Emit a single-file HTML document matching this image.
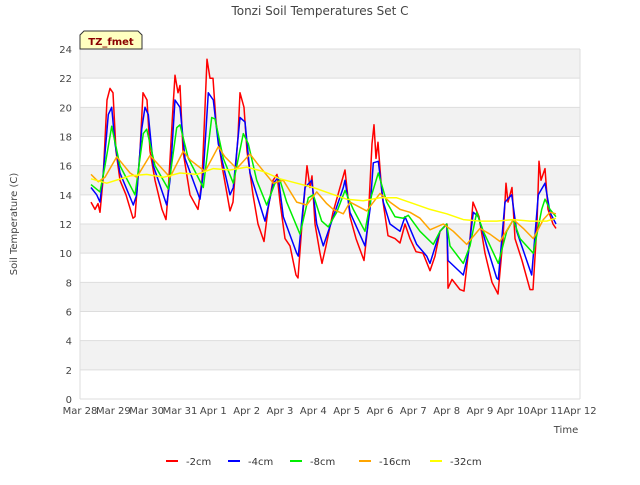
<!DOCTYPE html>
<html><head><meta charset="utf-8"><style>
body{margin:0;background:#fff;}
svg{font-family:"DejaVu Sans","Liberation Sans",sans-serif;}
</style></head><body>
<svg id="c" width="640" height="480" xmlns="http://www.w3.org/2000/svg">
<text x="320" y="15" text-anchor="middle" font-size="12" fill="#444">Tonzi Soil Temperatures Set C</text>
<text transform="translate(17,224) rotate(-90)" text-anchor="middle" font-size="10" fill="#444">Soil Temperature (C)</text>
<text x="566" y="433" text-anchor="middle" font-size="10" fill="#444">Time</text>
<g id="bands"></g><g id="grid"></g><g id="ticks"></g><g id="series"></g>
<g>
<path d="M80,49 L80,35 L84,31 L138,31 L142,35 L142,49 Z" fill="#ffffc0" stroke="#333" stroke-width="1"/>
<text x="111" y="45" text-anchor="middle" font-size="10" font-weight="bold" fill="#8b0000">TZ_fmet</text>
</g>
<g id="legend"></g>
</svg>
<script>
const xTickLabels=["Mar 28","Mar 29","Mar 30","Mar 31","Apr 1","Apr 2","Apr 3","Apr 4","Apr 5","Apr 6","Apr 7","Apr 8","Apr 9","Apr 10","Apr 11","Apr 12"];
const yTicks=[0,2,4,6,8,10,12,14,16,18,20,22,24];
const seriesNames=["-2cm","-4cm","-8cm","-16cm","-32cm"];
const seriesColors=["#ff0000","#0000ff","#00ee00","#ffa500","#ffff00"];
const s2t=[0.33,0.45,0.54,0.6,0.69,0.81,0.9,0.99,1.08,1.2,1.38,1.59,1.65,1.8,1.89,2.01,2.1,2.25,2.46,2.58,2.64,2.79,2.85,2.94,3.0,3.09,3.3,3.54,3.66,3.81,3.9,3.99,4.08,4.26,4.5,4.59,4.74,4.8,4.92,5.01,5.19,5.34,5.52,5.64,5.79,5.91,6.0,6.15,6.3,6.48,6.54,6.66,6.81,6.9,6.96,7.05,7.2,7.26,7.38,7.59,7.8,7.95,8.1,8.28,8.52,8.64,8.76,8.82,8.88,8.94,9.06,9.24,9.45,9.6,9.75,9.9,10.08,10.29,10.5,10.65,10.8,11.01,11.04,11.16,11.4,11.52,11.7,11.79,11.88,11.97,12.15,12.36,12.54,12.69,12.78,12.84,12.96,13.05,13.26,13.5,13.59,13.71,13.77,13.83,13.95,14.04,14.19,14.28];
const s2v=[13.5,13.0,13.4,12.8,15,20.5,21.3,21.0,17,15,14,12.4,12.5,17,21,20.5,17,15,13,12.3,14,20,22.2,21,21.5,17,14,13,15,23.3,22,22,19,16,12.9,13.5,18,21,20,17,14,12,10.8,13,15,15.4,13.5,11,10.5,8.5,8.3,12,16,14.5,15.3,12,10,9.3,10.5,12.8,14.5,15.7,12.5,11,9.5,12,17.5,18.8,16.5,17.6,14,11.2,11,10.7,12,11,10.1,10,8.8,9.8,11.5,12,7.6,8.2,7.5,7.4,11,13.5,13,12.5,10,8,7.2,11,14.8,13.5,14.5,11,9.5,7.5,7.5,12,16.3,15,15.8,13,12,11.7];
const s4t=[0.33,0.5,0.6,0.7,0.85,0.95,1.05,1.2,1.6,1.7,1.85,1.95,2.05,2.2,2.6,2.7,2.85,3.0,3.15,3.6,3.7,3.85,4.0,4.15,4.5,4.6,4.8,4.95,5.1,5.55,5.8,5.95,6.1,6.5,6.55,6.75,6.95,7.1,7.3,7.6,7.9,7.95,8.1,8.55,8.7,8.8,8.95,9.1,9.3,9.6,9.75,10.1,10.4,10.5,10.8,11.0,11.04,11.5,11.65,11.8,11.95,12.2,12.5,12.55,12.75,12.95,13.1,13.55,13.75,13.95,14.1,14.28];
const s4v=[14.5,14.0,13.5,15.5,19.5,20,17.5,15.5,13.3,14,18.5,20,19.5,16,13.3,15,20.5,20,16.5,13.7,15.5,21,20.5,17.5,14,14.5,19.3,19,15.5,12.2,14.8,15.2,12.5,10,9.8,14.5,15,12,10.5,12.5,14.5,15,12.8,10.5,13,16.2,16.3,13.5,12,11.5,12.5,10.6,9.8,9.3,11.5,12,9.5,8.5,10,12.8,12.5,10.5,8.3,8.2,13.5,14,11.5,8.5,14,14.8,12.8,12];
const s8t=[0.33,0.6,0.75,0.95,1.2,1.65,1.9,2.0,2.25,2.65,2.9,3.0,3.25,3.7,3.95,4.05,4.3,4.6,4.9,5.05,5.3,5.6,5.85,6.0,6.2,6.6,6.85,7.0,7.25,7.45,7.7,7.95,8.2,8.55,8.75,8.95,9.2,9.45,9.7,9.85,10.2,10.6,10.8,11.0,11.1,11.5,11.7,11.9,12.1,12.55,12.8,13.0,13.2,13.6,13.85,13.95,14.1,14.28];
const s8v=[14.7,14.2,16,18.7,16,14.0,18.2,18.5,16,14.4,18.6,18.8,16.5,14.5,19.3,19.2,16.5,14.8,18.2,17.5,15,13.3,14.8,15,13.5,11.3,13.8,14,12.2,11.8,12.8,14.3,13,11.5,14,15.5,13.5,12.5,12.4,12.6,11.5,10.6,11.5,12,10.5,9.3,10.5,12.8,11.5,9.3,11.5,12.3,11,10,13,13.7,13,12.5];
const s16t=[0.33,0.55,0.75,1.1,1.25,1.5,1.7,2.1,2.3,2.7,3.1,3.3,3.75,4.15,4.35,4.7,5.1,5.3,5.8,6.1,6.5,6.8,7.1,7.4,7.6,7.9,8.1,8.6,9.0,9.3,9.6,9.9,10.2,10.5,10.9,11.2,11.6,12.0,12.3,12.6,13.0,13.3,13.6,13.9,14.1,14.28];
const s16v=[15.4,14.9,15.2,16.6,16.2,15.5,15.2,16.7,16.2,15.2,17.0,16.4,15.6,17.3,16.6,15.8,16.8,16.2,14.8,15,13.5,13.3,14.2,13.4,13.0,12.7,13.5,12.9,14.1,13.5,13.0,12.8,12.4,11.6,12.0,11.5,10.6,11.7,11.3,10.8,12.3,11.7,11.0,12.3,12.8,12.7];
const s32t=[0.33,0.8,1.5,2.0,2.5,3.0,3.5,4.0,4.5,5.0,5.5,6.0,6.5,7.0,7.5,8.0,8.5,9.0,9.5,10.0,10.5,11.0,11.5,12.0,12.5,13.0,13.5,14.0,14.28];
const s32v=[15.1,14.8,15.3,15.4,15.2,15.5,15.4,15.8,15.7,15.9,15.6,15.1,14.8,14.5,14.1,13.7,13.6,13.8,13.8,13.4,13.0,12.7,12.3,12.2,12.2,12.3,12.2,12.2,12.4];
const seriesT=[s2t,s4t,s8t,s16t,s32t];
const seriesV=[s2v,s4v,s8v,s16v,s32v];

const NS="http://www.w3.org/2000/svg";
const X0=80,X1=580,Y0=399,Y1=49;
const xs=t=>X0+(X1-X0)*t/15;
const ys=v=>Y0-(Y0-Y1)*v/24;
function mk(tag,attrs,parent){const e=document.createElementNS(NS,tag);for(const k in attrs)e.setAttribute(k,attrs[k]);document.getElementById(parent).appendChild(e);return e;}
for(let v=0;v<24;v+=4){
  const r=mk("rect",{x:X0,y:ys(v+4),width:X1-X0,height:ys(v+2)-ys(v+4),fill:"#f2f2f2"},"bands");
  
  
}
yTicks.forEach(v=>{
  const l=mk("line",{x1:X0,x2:X1,y1:ys(v),y2:ys(v),stroke:"#dddddd","stroke-width":1},"grid");
  
  
  const t=mk("text",{x:X0-8,y:ys(v)+4,"text-anchor":"end","font-size":10,fill:"#444"},"ticks");
  t.textContent=v;
  
  
});
const ax=mk("line",{x1:X0,x2:X0,y1:Y1,y2:Y0,stroke:"#dddddd"},"grid");


const ax2=mk("line",{x1:X1,x2:X1,y1:Y1,y2:Y0,stroke:"#dddddd"},"grid");


xTickLabels.forEach((lab,i)=>{
  const t=mk("text",{x:xs(i),y:Y0+15,"text-anchor":"middle","font-size":10,fill:"#444"},"ticks");
  t.textContent=lab;
  
  
});
seriesNames.forEach((n,i)=>{
  const pts=seriesT[i].map((t,j)=>xs(t).toFixed(1)+","+ys(seriesV[i][j]).toFixed(1)).join(" ");
  const p=mk("polyline",{points:pts,fill:"none",stroke:seriesColors[i],"stroke-width":1.5,"stroke-linejoin":"round"},"series");
  
  
  const lx=[166,228,290,359,430][i];
  const g=mk("g",{},"legend");
  
  
  const l=document.createElementNS(NS,"line");
  l.setAttribute("x1",lx);l.setAttribute("x2",lx+12);l.setAttribute("y1",461);l.setAttribute("y2",461);
  l.setAttribute("stroke",seriesColors[i]);l.setAttribute("stroke-width",2);
  g.appendChild(l);
  const t=document.createElementNS(NS,"text");
  t.setAttribute("x",lx+20);t.setAttribute("y",465);t.setAttribute("font-size",10);t.setAttribute("fill","#333");
  t.textContent=n;g.appendChild(t);
});
</script>
</body></html>
